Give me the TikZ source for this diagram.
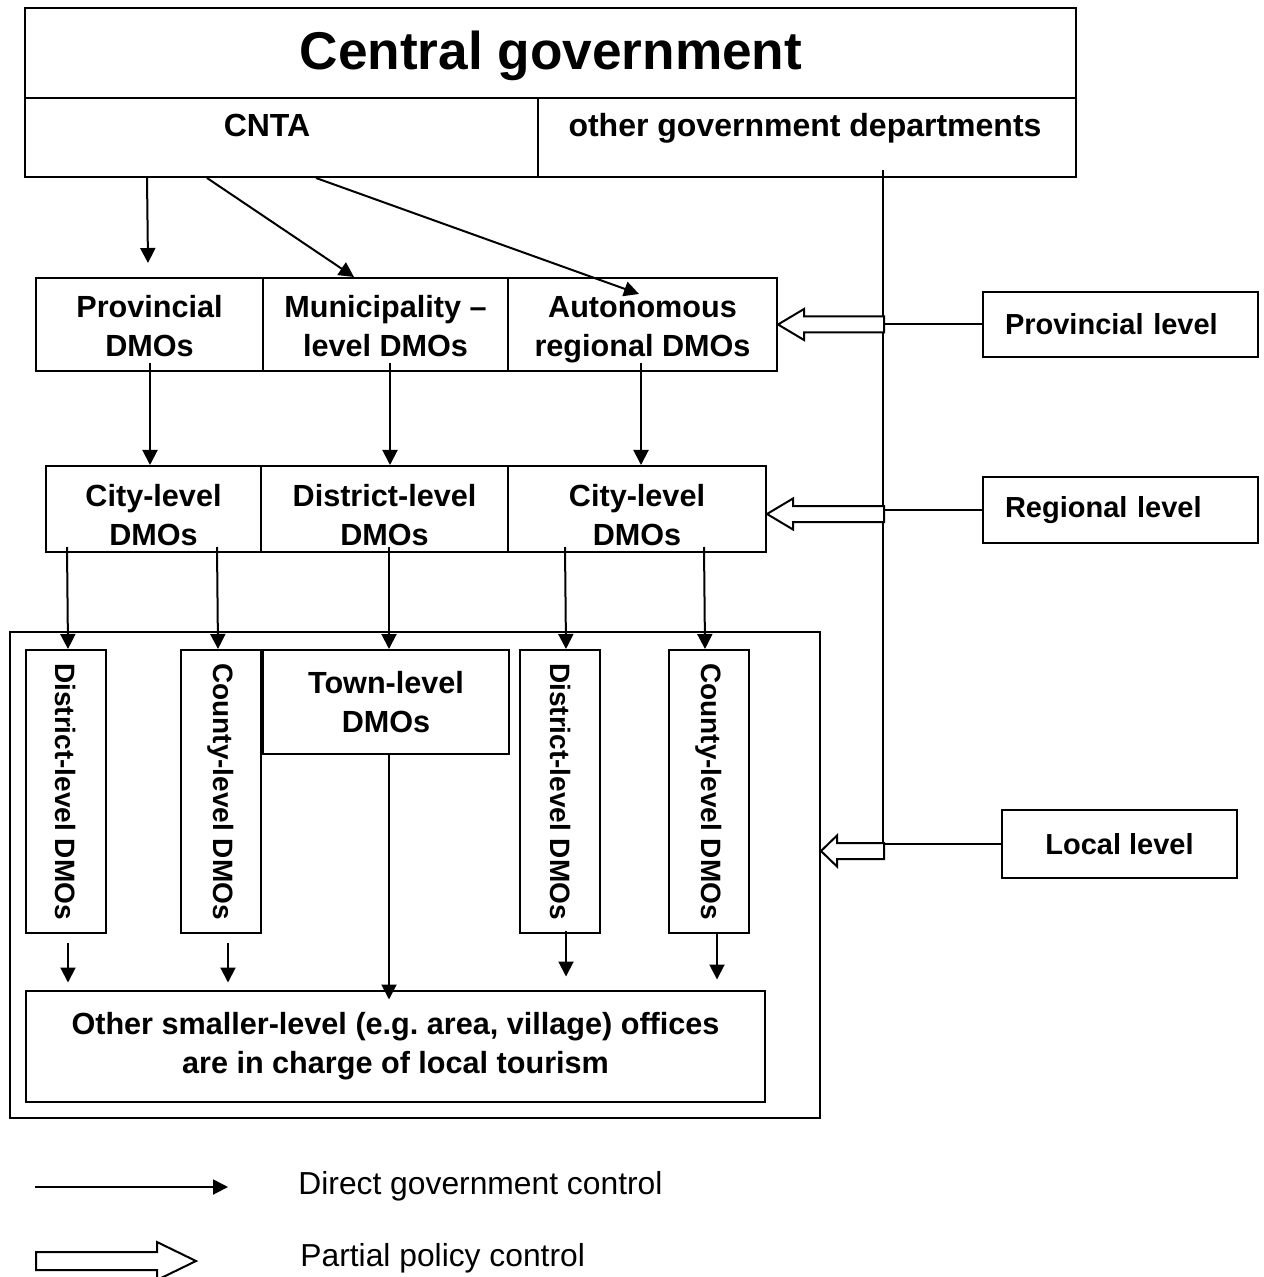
\documentclass[tikz,border=0pt]{standalone}
\usepackage{fontspec}
\setmainfont{Liberation Sans}
\usepackage{graphicx}
\usetikzlibrary{positioning,calc,arrows.meta}
\frenchspacing
\newcommand{\hstrut}[1]{\rule{0pt}{#1}}
\newcommand{\dstrut}{\rule[-3.5pt]{0pt}{3.5pt}}
\tikzset{
    every node/.style={font=\bfseries\fontsize{14.5}{19.5}\selectfont},
    box/.style={draw, line width=1pt, inner sep=0pt, align=center},
    cell/.style={box, font=\bfseries\fontsize{15.3}{19.5}\selectfont},
    vbox/.style={box, minimum width=40pt, minimum height=141.5pt, font=\bfseries\fontsize{14}{17}\selectfont},
    lvl/.style={box, minimum width=137.5pt, minimum height=32.5pt, text width=115.5pt, inner xsep=11pt, align=left},
    arrow/.style={-{Triangle[length=7.5pt,width=7.5pt]}, line width=1pt},
    link/.style={line width=1pt},
    legend/.style={font=\fontsize{15.9}{18}\selectfont, anchor=base west, inner sep=0pt},
    pics/hollowleft/.style 2 args={code={
        \draw[line width=1pt, fill=white] (0,0) -- (#1,-15.5) -- (#1,-8) -- (#2,-8) -- (#2,8) -- (#1,8) -- (#1,15.5) -- cycle;
    }},
}

\begin{document}
\begin{tikzpicture}[x=0.5pt, y=-0.5pt]
  \useasboundingbox (0,0) rectangle (1263,1277);

  % central government
  \node[box, minimum width=525.5pt, minimum height=45pt] (central) at (550.5,53) {};
  \node[box, minimum width=256.5pt, minimum height=39.5pt] (cnta) at (281.5,137.5) {};
  \node[box, minimum width=269pt, minimum height=39.5pt] (others) at (807,137.5) {};
  \node[anchor=base, font=\bfseries\fontsize{26.6}{30}\selectfont] (ctitle) at (551,70) {Central government};
  \node[anchor=base, font=\bfseries\fontsize{16}{19}\selectfont] (cntatxt) at (267,137) {CNTA};
  \node[anchor=base, font=\bfseries\fontsize{16}{19}\selectfont] (otherstxt) at (805,137) {other government departments};

  % provincial row
  \node[cell, minimum width=113.5pt, minimum height=46.5pt] (prov) at (149.5,324.5) {\hstrut{16.3pt}Provincial\\DMOs\dstrut};
  \node[cell, minimum width=122.5pt, minimum height=46.5pt] (muni) at (385.5,324.5) {\hstrut{16.3pt}Municipality --\\level DMOs\dstrut};
  \node[cell, minimum width=134.5pt, minimum height=46.5pt] (auto) at (642.5,324.5) {\hstrut{16.3pt}Autonomous\\regional DMOs\dstrut};

  % regional row
  \node[cell, minimum width=107.5pt, minimum height=42pt] (city1) at (153.5,509) {\hstrut{20pt}City-level\\DMOs\dstrut};
  \node[cell, minimum width=123.5pt, minimum height=42pt] (dist) at (384.5,509) {\hstrut{20pt}District-level\\DMOs\dstrut};
  \node[cell, minimum width=129pt, minimum height=42pt] (city2) at (637,509) {\hstrut{20pt}City-level\\DMOs\dstrut};

  % local level
  \node[box, minimum width=405pt, minimum height=243pt] (local) at (415,875) {};
  \node[vbox] (ldist) at (66,791.5) {\rotatebox{-90}{District-level DMOs}};
  \node[vbox] (lcounty) at (221,791.5) {\rotatebox{-90}{County-level DMOs}};
  \node[cell, minimum width=123pt, minimum height=52pt] (town) at (386,702) {Town-level\\DMOs};
  \node[vbox] (rdist) at (560,791.5) {\rotatebox{-90}{District-level DMOs}};
  \node[vbox] (rcounty) at (709,791.5) {\rotatebox{-90}{County-level DMOs}};
  \node[cell, minimum width=369.5pt, minimum height=55.5pt] (smaller) at (395.5,1046) {Other smaller-level (e.g. area, village) offices\\are in charge of local tourism};

  % levels on the right
  \node[lvl] (provlvl) at (1120.5,324.5) {Provincial level};
  \node[lvl] (reglvl) at (1120.5,510) {Regional level};
  \node[box, minimum width=117.5pt, minimum height=34pt] (loclvl) at (1119.5,844) {Local level};

  \coordinate (vtop) at (883,170);
  \coordinate (vbot) at (883,858);
  \draw[link] (vtop) -- (vbot);
  \draw[link] (provlvl.west) -- (provlvl.west -| vtop);
  \draw[link] (reglvl.west) -- (reglvl.west -| vtop);
  \draw[link] (loclvl.west) -- (loclvl.west -| vtop);

  \pic at (auto.east) {hollowleft={26}{106}};
  \pic at ($(city2.east)+(0,5)$) {hollowleft={26}{117}};
  \pic at ($(local.east |- loclvl)+(0,7)$) {hollowleft={16}{63}};

  % direct control
  \draw[arrow] ($(cnta.south west)+(123,0)$) -- ($(prov.north)+(-1.5,-14)$);
  \draw[arrow] ($(cnta.south west)+(183,0)$) -- ($(muni.north west)+(92,0)$);
  \draw[arrow] ($(cnta.south west)+(292,0)$) -- ($(auto.north west)+(132,17)$);

  \draw[arrow] ($(prov.south)+(0.5,-9)$) -- ($(prov.south |- city1.north)+(0.5,0)$);
  \draw[arrow] ($(muni.south)+(4.5,-9)$) -- ($(muni.south |- dist.north)+(4.5,0)$);
  \draw[arrow] ($(auto.south)+(-1.5,-9)$) -- ($(auto.south |- city2.north)+(-1.5,0)$);

  \draw[arrow] ($(city1.south west)+(22,-6)$) -- ($(ldist.north)+(2,0)$);
  \draw[arrow] ($(city1.south west)+(172,-6)$) -- ($(lcounty.north)+(-3,0)$);
  \draw[arrow] ($(dist.south)+(4.5,-6)$) -- ($(town.north)+(3,0)$);
  \draw[arrow] ($(city2.south west)+(58,-6)$) -- ($(rdist.north)+(6,0)$);
  \draw[arrow] ($(city2.south west)+(197,-6)$) -- ($(rcounty.north)+(-4,0)$);

  \draw[arrow] ($(ldist.south)+(2,9)$) -- ($(ldist.south |- smaller.north)+(2,-7)$);
  \draw[arrow] ($(lcounty.south)+(7,9)$) -- ($(lcounty.south |- smaller.north)+(7,-7)$);
  \draw[arrow] ($(town.south)+(3,0)$) -- ($(town.south |- smaller.north)+(3,10)$);
  \draw[arrow] ($(rdist.south)+(6,-3)$) -- ($(rdist.south |- smaller.north)+(6,-13)$);
  \draw[arrow] ($(rcounty.south)+(8,0)$) -- ($(rcounty.south |- smaller.north)+(8,-10)$);

  % legend
  \coordinate (lega) at (35,1187);
  \coordinate (legb) at (228,1187);
  \draw[arrow] (lega) -- (legb);
  \node[legend] (legdirect) at (298,1194) {Direct government control};
  \draw[link, fill=white] (36,1252) -- (157,1252) -- (157,1242) -- (196,1261) -- (157,1280) -- (157,1270) -- (36,1270) -- cycle;
  \node[legend] (legpartial) at (300,1266) {Partial policy control};
\end{tikzpicture}
\end{document}
